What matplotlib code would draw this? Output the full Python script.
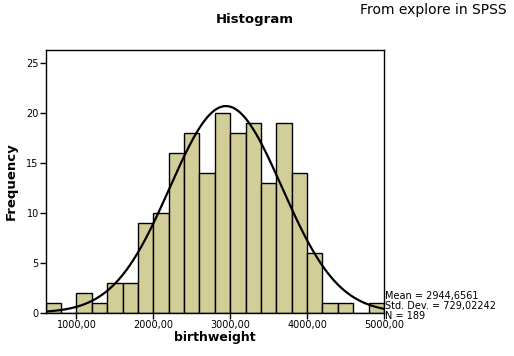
import matplotlib.pyplot as plt
import numpy as np

# histogram bins (width 200) and counts read from the SPSS output
bin_edges = np.arange(600, 5001, 200)
counts = [1, 0, 2, 1, 3, 3, 9, 10, 16, 18, 14, 20, 18, 19, 13, 19, 14, 6, 1, 1, 0, 1]
mean = 2944.6561
sd = 729.02242
n = 189
xticks = [1000, 2000, 3000, 4000, 5000]
yticks = [0, 5, 10, 15, 20, 25]

fig = plt.figure(figsize=(5.14, 3.56), dpi=100)
ax = fig.add_axes([0.0889, 0.1216, 0.6581, 0.738])

ax.bar(bin_edges[:-1], counts, width=np.diff(bin_edges), align='edge',
       color='#d3ce98', edgecolor='black', linewidth=1.0)

# normal curve scaled to counts
xs = np.linspace(600, 5000, 400)
bw = bin_edges[1] - bin_edges[0]
ys = n * bw / (sd * np.sqrt(2 * np.pi)) * np.exp(-0.5 * ((xs - mean) / sd) ** 2)
ax.plot(xs, ys, color='black', linewidth=1.6)

ax.set_xlim(600, 5000)
ax.set_ylim(0, 26.3)
ax.set_xticks(xticks)
ax.set_xticklabels(['%d,00' % t for t in xticks])
ax.set_yticks(yticks)
ax.tick_params(axis='both', labelsize=7, length=4, width=1, direction='out', pad=1)
for s in ax.spines.values():
    s.set_linewidth(1.0)

ax.set_xlabel('birthweight', fontsize=9, fontweight='bold', labelpad=1)
ax.set_ylabel('Frequency', fontsize=9.5, fontweight='bold', labelpad=6)

fig.text(0.495, 0.945, 'Histogram', ha='center', va='center', fontsize=9.5, fontweight='bold')
fig.text(0.985, 0.972, 'From explore in SPSS', ha='right', va='center', fontsize=10)

stats = 'Mean = 2944,6561\nStd. Dev. = 729,02242\nN = 189'
fig.text(0.749, 0.098, stats, ha='left', va='bottom', fontsize=7, linespacing=1.0)

plt.savefig('out.png', dpi=100)
